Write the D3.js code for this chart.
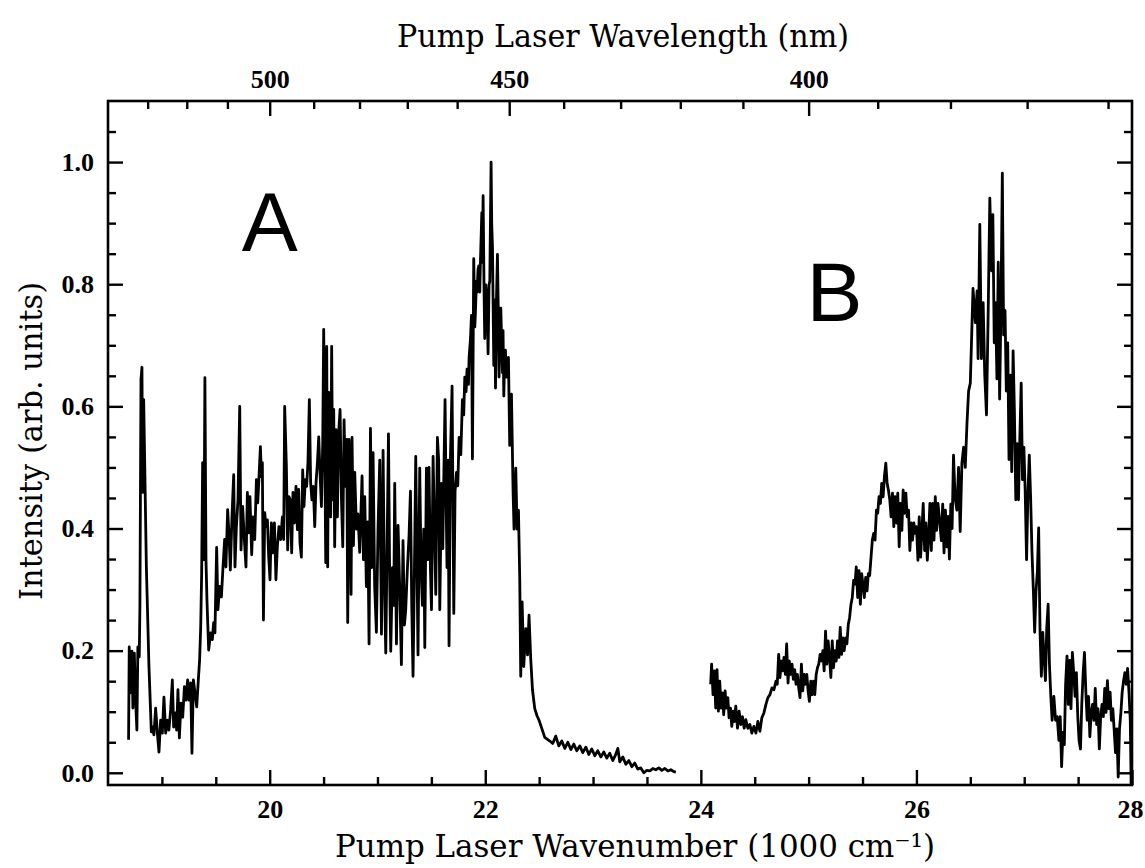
<!DOCTYPE html>
<html><head><meta charset="utf-8">
<script src="https://cdn.jsdelivr.net/npm/d3@7"></script>
<style>
body{margin:0;background:#fff}
.tick text{font-family:"Liberation Serif","Times New Roman",serif;font-weight:bold;font-size:26px;fill:#000}
</style>
</head><body>
<svg id="chart" width="1145" height="868"></svg>
<script>
// ---- data (wavenumber in 1000 cm^-1, intensity in arb. units) ----
const seriesA = [
[18.691,0.054],[18.697,0.206],[18.710,0.131],[18.722,0.199],[18.731,0.106],[18.744,0.196],[18.756,0.119],[18.768,0.070],[18.777,0.206],[18.790,0.190],[18.796,0.272],[18.806,0.644],[18.815,0.664],[18.821,0.459],[18.831,0.611],[18.856,0.337],[18.880,0.174],[18.902,0.067],[18.911,0.075],[18.926,0.062],[18.942,0.106],[18.958,0.065],[18.973,0.034],[18.988,0.086],[19.004,0.065],[19.019,0.124],[19.035,0.065],[19.051,0.086],[19.065,0.070],[19.081,0.103],[19.097,0.152],[19.109,0.075],[19.125,0.098],[19.137,0.070],[19.149,0.136],[19.162,0.057],[19.177,0.114],[19.193,0.091],[19.209,0.141],[19.224,0.119],[19.239,0.152],[19.251,0.119],[19.267,0.147],[19.279,0.032],[19.292,0.152],[19.307,0.131],[19.323,0.108],[19.338,0.152],[19.350,0.185],[19.360,0.239],[19.369,0.328],[19.378,0.508],[19.390,0.349],[19.399,0.647],[19.409,0.349],[19.418,0.283],[19.434,0.201],[19.452,0.229],[19.468,0.218],[19.480,0.246],[19.492,0.229],[19.508,0.369],[19.520,0.267],[19.536,0.305],[19.552,0.288],[19.567,0.337],[19.582,0.382],[19.594,0.337],[19.610,0.431],[19.622,0.393],[19.635,0.332],[19.650,0.419],[19.666,0.488],[19.678,0.337],[19.691,0.403],[19.706,0.447],[19.722,0.600],[19.734,0.365],[19.749,0.436],[19.765,0.382],[19.780,0.337],[19.793,0.459],[19.805,0.393],[19.817,0.452],[19.833,0.357],[19.845,0.419],[19.861,0.382],[19.877,0.480],[19.889,0.442],[19.901,0.485],[19.914,0.534],[19.923,0.485],[19.932,0.508],[19.942,0.250],[19.954,0.426],[19.966,0.403],[19.979,0.414],[19.991,0.353],[20.003,0.316],[20.016,0.409],[20.028,0.360],[20.044,0.409],[20.058,0.316],[20.071,0.370],[20.086,0.403],[20.102,0.382],[20.118,0.419],[20.130,0.382],[20.139,0.600],[20.155,0.501],[20.167,0.365],[20.179,0.452],[20.192,0.447],[20.204,0.360],[20.216,0.459],[20.229,0.409],[20.244,0.469],[20.257,0.398],[20.269,0.464],[20.281,0.377],[20.294,0.353],[20.306,0.496],[20.318,0.436],[20.331,0.480],[20.343,0.469],[20.355,0.508],[20.368,0.611],[20.380,0.475],[20.392,0.447],[20.405,0.469],[20.418,0.403],[20.430,0.475],[20.443,0.508],[20.455,0.550],[20.467,0.491],[20.480,0.436],[20.492,0.540],[20.501,0.726],[20.510,0.557],[20.520,0.344],[20.529,0.698],[20.538,0.337],[20.548,0.623],[20.557,0.491],[20.566,0.419],[20.575,0.698],[20.585,0.447],[20.594,0.595],[20.603,0.370],[20.615,0.562],[20.628,0.419],[20.640,0.557],[20.653,0.595],[20.666,0.447],[20.678,0.370],[20.690,0.578],[20.703,0.469],[20.715,0.546],[20.724,0.246],[20.736,0.546],
[20.742,0.524],[20.755,0.292],[20.764,0.549],[20.777,0.372],[20.789,0.492],[20.805,0.399],[20.819,0.424],[20.835,0.361],[20.857,0.486],[20.870,0.349],[20.882,0.452],[20.897,0.305],[20.910,0.411],[20.922,0.211],[20.935,0.564],[20.947,0.336],[20.959,0.524],[20.974,0.305],[20.990,0.230],[21.005,0.399],[21.021,0.512],[21.037,0.227],[21.052,0.528],[21.065,0.305],[21.077,0.196],[21.089,0.367],[21.102,0.555],[21.114,0.305],[21.123,0.199],[21.139,0.336],[21.151,0.274],[21.160,0.474],[21.176,0.211],[21.191,0.405],[21.206,0.305],[21.222,0.177],[21.237,0.380],[21.250,0.242],[21.262,0.267],[21.278,0.336],[21.293,0.389],[21.306,0.461],[21.318,0.274],[21.330,0.158],[21.343,0.336],[21.355,0.518],[21.367,0.336],[21.376,0.193],[21.392,0.499],[21.404,0.336],[21.417,0.274],[21.429,0.399],[21.439,0.205],[21.454,0.499],[21.466,0.349],[21.478,0.500],[21.491,0.336],[21.501,0.267],[21.516,0.518],[21.529,0.399],[21.541,0.292],[21.556,0.549],[21.568,0.512],[21.578,0.267],[21.594,0.474],[21.606,0.367],[21.615,0.480],[21.627,0.611],[21.636,0.461],[21.645,0.336],[21.655,0.512],[21.664,0.208],[21.677,0.518],[21.692,0.633],[21.708,0.261],[21.720,0.461],[21.733,0.492],[21.745,0.470],[21.757,0.549],[21.773,0.521],[21.788,0.611],[21.800,0.586],[21.810,0.648],[21.822,0.624],[21.831,0.661],[21.844,0.636],[21.850,0.680],[21.863,0.711],[21.872,0.749],[21.881,0.514],[21.893,0.842],[21.903,0.730],[21.909,0.755],[21.918,0.805],[21.924,0.787],[21.933,0.824],[21.940,0.830],[21.949,0.787],[21.955,0.836],[21.968,0.917],[21.974,0.836],[21.980,0.945],[21.989,0.787],[21.995,0.711],[22.005,0.799],[22.017,0.774],[22.026,0.686],[22.035,0.799],[22.042,0.805],[22.054,1.000],[22.060,0.898],[22.067,0.861],[22.079,0.667],[22.088,0.774],[22.095,0.630],[22.104,0.774],[22.113,0.849],[22.122,0.742],[22.128,0.648],[22.137,0.724],[22.144,0.761],[22.153,0.699],[22.160,0.655],[22.165,0.724],[22.172,0.617],[22.181,0.686],[22.187,0.692],[22.197,0.648],[22.209,0.674],[22.215,0.680],[22.227,0.536],[22.237,0.617],[22.243,0.620],[22.252,0.524],[22.258,0.461],[22.267,0.399],[22.277,0.461],[22.283,0.499],[22.295,0.399],[22.308,0.430],[22.320,0.317],[22.329,0.158],[22.342,0.280],[22.357,0.174],[22.376,0.236],[22.392,0.193],[22.406,0.258],[22.422,0.186],[22.438,0.136],[22.459,0.105],[22.481,0.093],[22.499,0.086],[22.522,0.074],[22.552,0.058],[22.599,0.052],
[22.626,0.048],[22.654,0.060],[22.682,0.044],[22.710,0.052],[22.738,0.040],[22.766,0.050],[22.794,0.038],[22.821,0.047],[22.849,0.036],[22.877,0.044],[22.905,0.033],[22.933,0.042],[22.961,0.030],[22.988,0.039],[23.016,0.028],[23.044,0.036],[23.072,0.026],[23.100,0.034],[23.128,0.024],[23.155,0.032],[23.183,0.020],[23.211,0.030],[23.230,0.040],[23.248,0.018],[23.276,0.026],[23.304,0.014],[23.332,0.020],[23.360,0.010],[23.387,0.016],[23.415,0.006],[23.443,0.008],[23.471,0.000],[23.499,0.004],[23.527,0.003],[23.555,0.007],[23.582,0.005],[23.610,0.008],[23.638,0.004],[23.666,0.007],[23.694,0.003],[23.722,0.005],[23.749,0.002],[23.768,0.001]
];

const seriesB = [
[24.091,0.145],[24.100,0.178],[24.113,0.128],[24.125,0.167],[24.138,0.106],[24.150,0.169],[24.163,0.101],[24.175,0.150],[24.188,0.106],[24.200,0.131],[24.212,0.095],[24.225,0.134],[24.237,0.106],[24.250,0.123],[24.262,0.090],[24.275,0.106],[24.287,0.076],[24.299,0.101],[24.312,0.084],[24.324,0.109],[24.340,0.073],[24.355,0.101],[24.371,0.079],[24.386,0.092],[24.402,0.073],[24.417,0.087],[24.436,0.073],[24.455,0.079],[24.473,0.065],[24.492,0.076],[24.511,0.065],[24.529,0.084],[24.548,0.068],[24.566,0.090],[24.585,0.098],[24.604,0.112],[24.622,0.123],[24.641,0.128],[24.660,0.139],[24.678,0.136],[24.697,0.150],[24.709,0.145],[24.722,0.194],[24.734,0.156],[24.747,0.183],[24.759,0.167],[24.771,0.189],[24.784,0.161],[24.796,0.211],[24.809,0.147],[24.821,0.183],[24.834,0.161],[24.846,0.178],[24.858,0.153],[24.871,0.169],[24.883,0.145],[24.896,0.161],[24.908,0.139],[24.920,0.123],[24.933,0.178],[24.945,0.134],[24.958,0.161],[24.970,0.145],[24.983,0.161],[24.995,0.134],[25.007,0.117],[25.020,0.150],[25.032,0.128],[25.045,0.150],[25.057,0.128],[25.070,0.161],[25.082,0.172],[25.094,0.178],[25.107,0.194],[25.119,0.183],[25.132,0.200],[25.144,0.167],[25.157,0.232],[25.169,0.178],[25.181,0.216],[25.194,0.189],[25.206,0.156],[25.219,0.216],[25.231,0.172],[25.243,0.200],[25.256,0.183],[25.268,0.216],[25.281,0.189],[25.293,0.238],[25.306,0.194],[25.318,0.221],[25.330,0.200],[25.343,0.221],[25.355,0.211],[25.368,0.243],[25.380,0.254],[25.393,0.276],[25.405,0.287],[25.417,0.315],[25.430,0.309],[25.442,0.337],[25.455,0.287],[25.467,0.331],[25.480,0.276],[25.492,0.326],[25.504,0.309],[25.517,0.287],[25.529,0.320],[25.542,0.298],[25.554,0.326],[25.566,0.323],[25.579,0.353],[25.591,0.381],[25.604,0.392],[25.616,0.381],[25.629,0.430],[25.641,0.425],[25.653,0.452],[25.666,0.441],[25.678,0.474],[25.691,0.452],[25.703,0.485],[25.716,0.507],[25.728,0.474],[25.740,0.463],[25.753,0.447],[25.765,0.419],[25.778,0.458],[25.790,0.403],[25.802,0.452],[25.815,0.409],[25.827,0.458],[25.840,0.370],[25.852,0.441],[25.865,0.397],[25.877,0.463],[25.889,0.425],[25.902,0.458],[25.914,0.419],[25.927,0.430],[25.939,0.364],[25.952,0.409],[25.964,0.381],[25.976,0.409],[25.989,0.392],[26.001,0.403],[26.014,0.348],[26.026,0.419],[26.039,0.353],[26.051,0.397],[26.063,0.441],[26.076,0.364],[26.088,0.409],[26.101,0.348],[26.113,0.386],[26.125,0.441],[26.138,0.364],[26.150,0.441],[26.163,0.381],[26.175,0.452],[26.187,0.397],[26.200,0.441],[26.212,0.419],[26.231,0.380],[26.244,0.440],[26.256,0.360],[26.269,0.430],[26.281,0.370],[26.294,0.420],[26.306,0.350],[26.319,0.440],[26.331,0.400],[26.344,0.520],[26.359,0.450],[26.375,0.430],[26.391,0.500],[26.406,0.395],[26.422,0.507],[26.438,0.533],[26.453,0.500],[26.469,0.572],[26.484,0.625],
[26.500,0.638],[26.525,0.793],[26.547,0.737],[26.563,0.789],[26.572,0.678],[26.588,0.898],[26.603,0.678],[26.619,0.770],[26.634,0.651],[26.650,0.586],[26.666,0.757],[26.681,0.941],[26.697,0.822],[26.709,0.914],[26.722,0.704],[26.734,0.770],[26.747,0.645],[26.759,0.836],[26.772,0.612],[26.784,0.757],[26.797,0.982],[26.809,0.717],[26.822,0.757],[26.834,0.625],[26.847,0.704],[26.859,0.513],[26.872,0.651],[26.884,0.493],[26.897,0.691],[26.909,0.592],[26.922,0.447],[26.934,0.539],[26.947,0.447],[26.959,0.546],[26.972,0.638],[26.984,0.480],[26.997,0.533],[27.009,0.461],[27.022,0.349],[27.034,0.454],[27.047,0.520],[27.059,0.454],[27.072,0.362],[27.084,0.303],[27.097,0.230],[27.109,0.296],[27.122,0.329],[27.134,0.401],[27.147,0.230],[27.159,0.158],[27.172,0.230],[27.184,0.191],[27.197,0.151],[27.209,0.237],[27.222,0.276],[27.234,0.178],[27.247,0.125],[27.259,0.086],[27.275,0.125],[27.291,0.086],[27.306,0.092],[27.322,0.053],[27.334,0.092],[27.347,0.010],[27.359,0.066],[27.372,0.046],[27.384,0.145],[27.397,0.191],[27.409,0.112],[27.422,0.184],[27.434,0.105],[27.447,0.197],[27.459,0.164],[27.472,0.125],[27.484,0.164],[27.497,0.092],[27.509,0.053],[27.522,0.039],[27.534,0.112],[27.547,0.164],[27.559,0.197],[27.572,0.132],[27.584,0.086],[27.597,0.125],[27.609,0.059],[27.622,0.099],[27.634,0.112],[27.647,0.086],[27.659,0.138],[27.672,0.079],[27.684,0.105],[27.697,0.039],[27.709,0.092],[27.722,0.112],[27.734,0.092],[27.747,0.138],[27.759,0.099],[27.772,0.151],[27.784,0.105],[27.797,0.132],[27.809,0.086],[27.822,0.105],[27.834,0.072],[27.847,0.033],[27.859,0.072],[27.872,-0.007],[27.884,0.072],[27.897,0.099],[27.909,0.132],[27.922,0.151],[27.934,0.164],[27.947,0.145],[27.959,0.171],[27.972,0.132],[27.984,0.086],[27.992,-0.020]
];

// ---- axis ticks ----
const wavenumberMajorTicks = [20, 22, 24, 26, 28];
const wavenumberMinorTicks = [19, 19.5, 20.5, 21, 21.5, 22.5, 23, 23.5, 24.5, 25, 25.5, 26.5, 27, 27.5];
const intensityMajorTicks = [0, 0.2, 0.4, 0.6, 0.8, 1.0];
const intensityMinorTicks = [0.05, 0.1, 0.15, 0.25, 0.3, 0.35, 0.45, 0.5, 0.55, 0.65, 0.7, 0.75, 0.85, 0.9, 0.95, 1.05];
const wavelengthMajorTicks = [500, 450, 400];
const wavelengthMinorTicks = [530, 520, 510, 490, 480, 470, 460, 440, 430, 420, 410, 390, 380, 370, 360];
const panelLabels = [{text: "A", x: 20.0, y: 0.855}, {text: "B", x: 25.24, y: 0.74}];

// ---- layout ----
const svg = d3.select("#chart");
const L = 108, R = 1132, T = 101, B = 785;
const x = d3.scaleLinear().domain([18.5, 28]).range([L, R]);
const y = d3.scaleLinear().domain([-0.02, 1.1]).range([B, T]);
const nm2wn = nm => 1e4 / nm;

function styleAxis(g){
  g.select(".domain").remove();
  g.selectAll(".tick line").attr("stroke", "#000").attr("stroke-width", 2.4);
}

// bottom
svg.append("g").attr("transform", `translate(0,${B})`)
  .call(d3.axisBottom(x).tickValues(wavenumberMajorTicks).tickSizeInner(-15).tickSizeOuter(0).tickPadding(15).tickFormat(d3.format("d")))
  .call(styleAxis)
  .call(g => g.selectAll(".tick text").filter(d => d === 28).attr("dx", -2));
svg.append("g").attr("transform", `translate(0,${B})`)
  .call(d3.axisBottom(x).tickValues(wavenumberMinorTicks).tickSizeInner(-8).tickSizeOuter(0).tickFormat(""))
  .call(styleAxis);
// left
svg.append("g").attr("transform", `translate(${L},0)`)
  .call(d3.axisLeft(y).tickValues(intensityMajorTicks).tickSizeInner(-15).tickSizeOuter(0).tickPadding(14).tickFormat(d3.format(".1f")))
  .call(styleAxis);
svg.append("g").attr("transform", `translate(${L},0)`)
  .call(d3.axisLeft(y).tickValues(intensityMinorTicks).tickSizeInner(-8).tickSizeOuter(0).tickFormat(""))
  .call(styleAxis);
// right
svg.append("g").attr("transform", `translate(${R},0)`)
  .call(d3.axisRight(y).tickValues(intensityMajorTicks).tickSizeInner(-15).tickSizeOuter(0).tickFormat(""))
  .call(styleAxis);
svg.append("g").attr("transform", `translate(${R},0)`)
  .call(d3.axisRight(y).tickValues(intensityMinorTicks).tickSizeInner(-8).tickSizeOuter(0).tickFormat(""))
  .call(styleAxis);
// top (wavelength)
svg.append("g").attr("transform", `translate(0,${T})`)
  .call(d3.axisTop(x).tickValues(wavelengthMajorTicks.map(nm2wn)).tickSizeInner(-15).tickSizeOuter(0).tickPadding(13)
        .tickFormat(d => d3.format("d")(Math.round(1e4 / d))))
  .call(styleAxis);
svg.append("g").attr("transform", `translate(0,${T})`)
  .call(d3.axisTop(x).tickValues(wavelengthMinorTicks.map(nm2wn)).tickSizeInner(-8).tickSizeOuter(0).tickFormat(""))
  .call(styleAxis);

// frame
svg.append("rect").attr("x", L).attr("y", T).attr("width", R - L).attr("height", B - T)
  .attr("fill", "none").attr("stroke", "#000").attr("stroke-width", 2.6);

// data lines
const line = d3.line().x(d => x(d[0])).y(d => y(d[1]));
[seriesA, seriesB].forEach(s => {
  svg.append("path").datum(s).attr("d", line)
    .attr("fill", "none").attr("stroke", "#000").attr("stroke-width", 2.8)
    .attr("stroke-linejoin", "round");
});

// panel labels
svg.selectAll(".panel").data(panelLabels).enter().append("text")
  .attr("x", d => x(d.x)).attr("y", d => y(d.y))
  .attr("text-anchor", "middle")
  .attr("font-family", "'Liberation Sans', Arial, sans-serif")
  .attr("font-size", 84).text(d => d.text);

// titles
const serif = "'DejaVu Serif',serif";
svg.append("text").attr("x", 623).attr("y", 47).attr("text-anchor", "middle")
  .attr("font-family", serif).attr("font-size", 32)
  .attr("textLength", 452).attr("lengthAdjust", "spacingAndGlyphs")
  .text("Pump Laser Wavelength (nm)");

svg.append("text").attr("x", 335).attr("y", 857)
  .attr("font-family", serif).attr("font-size", 32)
  .attr("textLength", 600).attr("lengthAdjust", "spacingAndGlyphs")
  .text("Pump Laser Wavenumber (1000 cm\u207B\u00B9)");

svg.append("text").attr("transform", "translate(42,441) rotate(-90)")
  .attr("text-anchor", "middle")
  .attr("font-family", serif).attr("font-size", 32)
  .attr("textLength", 318).attr("lengthAdjust", "spacingAndGlyphs")
  .text("Intensity (arb. units)");
</script>
</body></html>
